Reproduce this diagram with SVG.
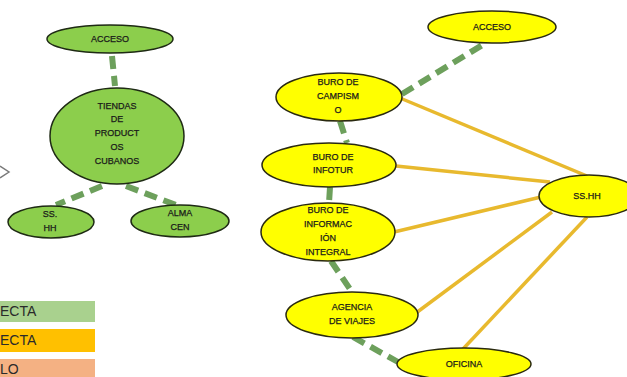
<svg xmlns="http://www.w3.org/2000/svg" width="627" height="377" viewBox="0 0 627 377">
  <style>
    .g { fill: #8cce4c; stroke: #1e2a14; stroke-width: 1.5; }
    .y { fill: #ffff00; stroke: #2a2a10; stroke-width: 1.5; }
    .lbl { font-family: "Liberation Sans", Arial, sans-serif; font-size: 9px; fill: #1a1a1a; stroke: #1a1a1a; stroke-width: 0.25; text-anchor: middle; }
    .dash { stroke: #6da05c; stroke-width: 6; stroke-dasharray: 13 7; fill: none; }
    .solid { stroke: #e8b92e; stroke-width: 3.5; fill: none; }
    .leg { font-family: "Liberation Sans", Calibri, sans-serif; font-size: 14px; fill: #2a2a2a; }
  </style>

  <rect width="627" height="377" fill="#ffffff"/>

  <!-- connectors -->
  <g id="connectors">
    <!-- left cluster -->
    <line class="dash" x1="112" y1="56" x2="115" y2="86"/>
    <line class="dash" x1="102" y1="186" x2="56" y2="205"/>
    <line class="dash" x1="126" y1="186" x2="176" y2="205"/>
    <!-- right cluster: dashed -->
    <line class="dash" x1="402" y1="94" x2="484" y2="44"/>
    <line class="dash" x1="340" y1="121" x2="347" y2="143"/>
    <line class="dash" x1="330" y1="187" x2="329" y2="203"/>
    <line class="dash" x1="331" y1="261" x2="352" y2="292"/>
    <line class="dash" x1="353" y1="337" x2="398" y2="362"/>
    <!-- right cluster: solid -->
    <line class="solid" x1="400" y1="98" x2="587" y2="176"/>
    <line class="solid" x1="396" y1="166" x2="550" y2="182"/>
    <line class="solid" x1="394" y1="232" x2="541" y2="197"/>
    <line class="solid" x1="416" y1="313" x2="552" y2="212"/>
    <line class="solid" x1="463" y1="349" x2="587" y2="217"/>
  </g>

  <!-- partial chevron at left edge -->
  <polyline points="0,166 9,172 0,178" fill="none" stroke="#7a7a7a" stroke-width="1.5"/>

  <!-- left cluster nodes -->
  <g id="acceso-left">
    <ellipse class="g" cx="110" cy="39" rx="63" ry="14"/>
    <text class="lbl" x="110" y="42">ACCESO</text>
  </g>
  <g id="tiendas">
    <ellipse class="g" cx="117" cy="136" rx="67" ry="48"/>
    <text class="lbl" x="117" y="109">TIENDAS</text>
    <text class="lbl" x="117" y="122">DE</text>
    <text class="lbl" x="117" y="136">PRODUCT</text>
    <text class="lbl" x="117" y="150">OS</text>
    <text class="lbl" x="117" y="164">CUBANOS</text>
  </g>
  <g id="sshh-left">
    <ellipse class="g" cx="51" cy="222" rx="43" ry="16"/>
    <text class="lbl" x="50" y="217">SS.</text>
    <text class="lbl" x="50" y="231">HH</text>
  </g>
  <g id="almacen">
    <ellipse class="g" cx="180" cy="221" rx="49" ry="16"/>
    <text class="lbl" x="180" y="216">ALMA</text>
    <text class="lbl" x="180" y="230">CEN</text>
  </g>

  <!-- legend -->
  <g id="legend">
    <rect x="0" y="301" width="95" height="21" fill="#a9d18e"/>
    <rect x="0" y="329" width="95" height="23" fill="#ffc000"/>
    <rect x="0" y="359" width="95" height="18" fill="#f4b183"/>
    <text class="leg" x="0" y="316">ECTA</text>
    <text class="leg" x="0" y="345">ECTA</text>
    <text class="leg" x="0" y="374">LO</text>
  </g>

  <!-- right cluster nodes -->
  <g id="acceso-right">
    <ellipse class="y" cx="492" cy="27" rx="64" ry="16"/>
    <text class="lbl" x="492" y="30">ACCESO</text>
  </g>
  <g id="campismo">
    <ellipse class="y" cx="339" cy="97" rx="63" ry="24"/>
    <text class="lbl" x="338" y="85">BURO DE</text>
    <text class="lbl" x="338" y="99">CAMPISM</text>
    <text class="lbl" x="338" y="113">O</text>
  </g>
  <g id="infotur">
    <ellipse class="y" cx="329" cy="165" rx="67" ry="22"/>
    <text class="lbl" x="333" y="160">BURO DE</text>
    <text class="lbl" x="333" y="173">INFOTUR</text>
  </g>
  <g id="informacion">
    <ellipse class="y" cx="328" cy="232" rx="67" ry="29"/>
    <text class="lbl" x="328" y="213">BURO DE</text>
    <text class="lbl" x="328" y="227">INFORMAC</text>
    <text class="lbl" x="328" y="241">IÓN</text>
    <text class="lbl" x="328" y="255">INTEGRAL</text>
  </g>
  <g id="agencia">
    <ellipse class="y" cx="352" cy="315" rx="66" ry="23"/>
    <text class="lbl" x="352" y="310">AGENCIA</text>
    <text class="lbl" x="352" y="324">DE VIAJES</text>
  </g>
  <g id="oficina">
    <ellipse class="y" cx="464" cy="364" rx="67" ry="16"/>
    <text class="lbl" x="464" y="367">OFICINA</text>
  </g>
  <g id="sshh-right">
    <ellipse class="y" cx="589" cy="196" rx="50" ry="21"/>
    <text class="lbl" x="587" y="199">SS.HH</text>
  </g>
</svg>
